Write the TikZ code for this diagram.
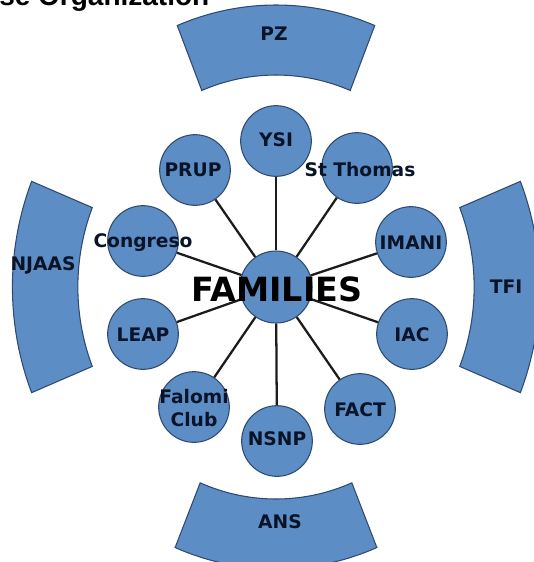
\documentclass[tikz,border=0pt]{standalone}
\usepackage{fontspec}
\setmainfont{DejaVu Sans}
\newfontfamily\titlef{Liberation Sans}
\definecolor{blfill}{HTML}{5D8DC5}
\definecolor{bledge}{HTML}{2E4A72}
\definecolor{lbltxt}{HTML}{0A1428}
\definecolor{linec}{HTML}{1C1C1C}
\tikzset{
  sat/.style={circle, draw=bledge, line width=0.8pt, fill=blfill, minimum size=53pt, inner sep=0pt},
  hub/.style={circle, draw=bledge, line width=0.8pt, fill=blfill, minimum size=54pt, inner sep=0pt},
  lbl/.style={font=\fontsize{14}{17}\selectfont\bfseries, text=lbltxt, align=center, inner sep=0pt},
  biglbl/.style={font=\fontsize{25}{30}\selectfont\bfseries, text=black, inner sep=0pt},
  conn/.style={draw=linec, line width=1.7pt},
  sector/.style={draw=bledge, line width=0.8pt, fill=blfill}
}
\begin{document}
\begin{tikzpicture}[x=0.75pt, y=-0.75pt]
\useasboundingbox (0,0) rectangle (534,562);
\fill[white] (0,0) rectangle (534,562);
% clipped title
\node[anchor=base west, font=\titlef\fontsize{21}{25}\selectfont\bfseries, inner sep=0pt] (title) at (-1,5) {se Organization};
% sectors
\begin{scope}[shift={(276,287)}, x={(0.701pt,0)}, y={(0,0.75pt)}]
  \path[sector] plot[domain=68:112, samples=40] (\x:282) -- plot[domain=112:68, samples=40] (\x:212) -- cycle;
  \path[sector] plot[domain=158:202, samples=40] (\x:282) -- plot[domain=202:158, samples=40] (\x:212) -- cycle;
  \path[sector] plot[domain=-22:22, samples=40] (\x:282) -- plot[domain=22:-22, samples=40] (\x:212) -- cycle;
  \path[sector] plot[domain=247.5:292.5, samples=40] (\x:282) -- plot[domain=292.5:247.5, samples=40] (\x:212) -- cycle;
\end{scope}
\node[lbl] (pz) at (274,34) {PZ};
\node[lbl] (njaas) at (43,265) {NJAAS};
\node[lbl] (tfi) at (506,287) {TFI};
\node[lbl] (ans) at (280,522) {ANS};
% hub and satellites
\node[hub] (fam) at (276,287) {};
\node[sat] (ysi) at (276,141) {};
\node[sat] (prup) at (195,170) {};
\node[sat] (stt) at (357,168) {};
\node[sat] (imani) at (411,242) {};
\node[sat] (iac) at (412,334) {};
\node[sat] (fact) at (360,409) {};
\node[sat] (nsnp) at (277,441) {};
\node[sat] (falomi) at (194,407) {};
\node[sat] (leap) at (143,334) {};
\node[sat] (cong) at (143,241) {};
% connectors
\foreach \s in {ysi,prup,stt,imani,iac,fact,nsnp,falomi,leap,cong}
  \draw[conn] (fam) -- (\s);
% labels
\node[lbl] at (276,140) {YSI};
\node[lbl] at (193,170) {PRUP};
\node[lbl] at (360,170) {St Thomas};
\node[lbl] at (411,243) {IMANI};
\node[lbl] at (412,335) {IAC};
\node[lbl] at (360,410) {FACT};
\node[lbl] at (277,439) {NSNP};
\node[lbl] at (194,408) {Falomi\\Club};
\node[lbl] at (143,335) {LEAP};
\node[lbl] at (143,243) {Congreso};
\node[biglbl] at (277,289) {FAMILIES};
\end{tikzpicture}
\end{document}
